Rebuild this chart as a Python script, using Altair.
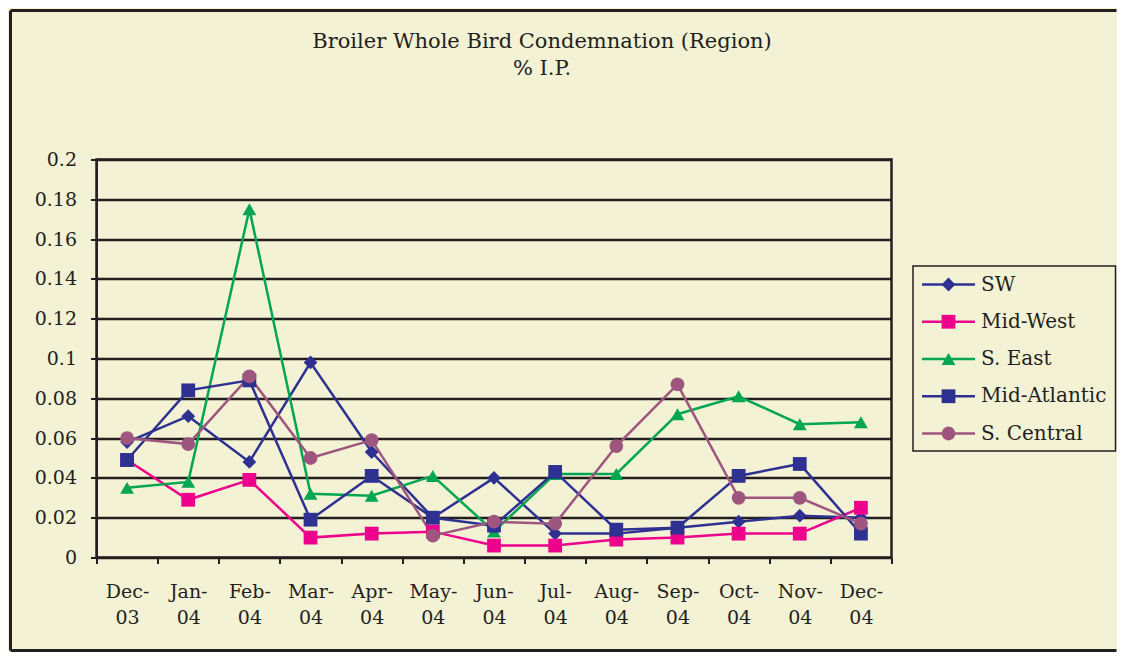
import altair as alt
import pandas as pd

months = ["Dec-03", "Jan-04", "Feb-04", "Mar-04", "Apr-04", "May-04", "Jun-04",
          "Jul-04", "Aug-04", "Sep-04", "Oct-04", "Nov-04", "Dec-04"]
series_names = ["SW", "Mid-West", "S. East", "Mid-Atlantic", "S. Central"]

sw = [0.058, 0.071, 0.048, 0.098, 0.053, 0.020, 0.040, 0.012, 0.012, 0.015, 0.018, 0.021, 0.020]
mid_west = [0.049, 0.029, 0.039, 0.010, 0.012, 0.013, 0.006, 0.006, 0.009, 0.010, 0.012, 0.012, 0.025]
s_east = [0.035, 0.038, 0.175, 0.032, 0.031, 0.041, 0.013, 0.042, 0.042, 0.072, 0.081, 0.067, 0.068]
mid_atlantic = [0.049, 0.084, 0.089, 0.019, 0.041, 0.020, 0.016, 0.043, 0.014, 0.015, 0.041, 0.047, 0.012]
s_central = [0.060, 0.057, 0.091, 0.050, 0.059, 0.011, 0.018, 0.017, 0.056, 0.087, 0.030, 0.030, 0.017]

y_ticks = [0, 0.02, 0.04, 0.06, 0.08, 0.1, 0.12, 0.14, 0.16, 0.18, 0.2]

title_text = "Broiler Whole Bird Condemnation (Region)"
subtitle_text = "% I.P."

colors = ["#2E3192", "#EC008C", "#00A651", "#2E3192", "#9E567E"]
shapes = ["diamond", "square", "triangle-up", "square", "circle"]

all_values = [sw, mid_west, s_east, mid_atlantic, s_central]
rows = []
for name, vals in zip(series_names, all_values):
    for m, v in zip(months, vals):
        rows.append({"month": m, "series": name, "value": v})
df = pd.DataFrame(rows)
legend_df = pd.DataFrame({"series": series_names})

FONT = "DejaVu Serif"
BG = "#F3F2D4"
INK = "#231F20"

color_scale = alt.Scale(domain=series_names, range=colors)
shape_scale = alt.Scale(domain=series_names, range=shapes)

x_enc = alt.X(
    "month:O", sort=months, title=None,
    scale=alt.Scale(type="band", paddingInner=0, paddingOuter=0),
    axis=alt.Axis(
        labelAngle=0, tickBand="extent", labelFont=FONT, labelFontSize=19,
        labelColor=INK, labelLineHeight=26, labelPadding=19,
        labelExpr="datum.label ? [split(datum.label, '-')[0] + '-', split(datum.label, '-')[1]] : ''",
        domainColor=INK, domainWidth=2, tickColor=INK, tickWidth=2, tickSize=6,
        grid=False,
    ),
)
y_enc = alt.Y(
    "value:Q", title=None,
    scale=alt.Scale(domain=[0, 0.2], nice=False),
    axis=alt.Axis(
        values=y_ticks, format=".2~f", labelFont=FONT, labelFontSize=19,
        labelColor=INK, labelPadding=14,
        domainColor=INK, domainWidth=2, tickColor=INK, tickWidth=2, tickSize=6,
        grid=True, gridColor=INK, gridWidth=2.5, gridOpacity=1,
    ),
)

lines = alt.Chart(df).mark_line(strokeWidth=2.5).encode(
    x=x_enc, y=y_enc,
    color=alt.Color("series:N", scale=color_scale, legend=None),
    detail="series:N",
)

points = alt.Chart(df).mark_point(filled=True, size=190, opacity=1).encode(
    x=x_enc, y=y_enc,
    color=alt.Color("series:N", scale=color_scale, legend=None),
    shape=alt.Shape("series:N", scale=shape_scale, legend=None),
)

main = alt.layer(lines, points)

# ---- legend drawn as marks, rows placed by a point scale on series ----
leg_y = alt.Y("series:N", sort=series_names, axis=None,
              scale=alt.Scale(type="point", domain=series_names, range=[125, 274], padding=0))

leg_box = alt.Chart(alt.Data(values=[{}])).mark_rect(
    fill=BG, stroke=INK, strokeWidth=1.5
).encode(x=alt.value(816.5), x2=alt.value(1019), y=alt.value(106.5), y2=alt.value(291.5))

leg_rule = alt.Chart(legend_df).mark_rule(strokeWidth=2.5).encode(
    x=alt.value(825.5), x2=alt.value(878.5), y=leg_y,
    color=alt.Color("series:N", scale=color_scale, legend=None),
)
leg_mark = alt.Chart(legend_df).mark_point(filled=True, size=190, opacity=1).encode(
    x=alt.value(852), y=leg_y,
    color=alt.Color("series:N", scale=color_scale, legend=None),
    shape=alt.Shape("series:N", scale=shape_scale, legend=None),
)
leg_text = alt.Chart(legend_df).mark_text(
    align="left", baseline="middle", font=FONT, fontSize=20, color=INK
).encode(x=alt.value(884.5), y=leg_y, text="series:N")

legend = alt.layer(leg_box, leg_rule, leg_mark, leg_text)

# ---- title ----
title_df = pd.DataFrame({"t": [title_text]})
sub_df = pd.DataFrame({"t": [subtitle_text]})
title_mark = alt.Chart(title_df).mark_text(
    align="center", baseline="alphabetic", font=FONT, fontSize=21, color=INK
).encode(x=alt.value(445.5), y=alt.value(-111.5), text="t:N")
sub_mark = alt.Chart(sub_df).mark_text(
    align="center", baseline="alphabetic", font=FONT, fontSize=21, color=INK
).encode(x=alt.value(445.5), y=alt.value(-84.5), text="t:N")

# outer frame: left, top and bottom edges
one = alt.Data(values=[{}])
frame_left = alt.Chart(one).mark_rule(color=INK, strokeWidth=3).encode(
    x=alt.value(-86), y=alt.value(-149), y2=alt.value(491))
frame_top = alt.Chart(one).mark_rule(color=INK, strokeWidth=3).encode(
    x=alt.value(-86), x2=alt.value(1020), y=alt.value(-149))
frame_bottom = alt.Chart(one).mark_rule(color=INK, strokeWidth=3).encode(
    x=alt.value(-86), x2=alt.value(1020), y=alt.value(491))

chart = alt.layer(frame_left, frame_top, frame_bottom, main, legend, title_mark, sub_mark).resolve_scale(
    y="independent"
).properties(
    width=795, height=398,
    autosize=alt.AutoSizeParams(type="none"),
    padding={"left": 88.5, "top": 151.5, "right": 225, "bottom": 94},
    background=BG,
).configure_view(stroke=INK, strokeWidth=2.5)

chart.save("out.html", embed_options={"renderer": "svg", "actions": False})
